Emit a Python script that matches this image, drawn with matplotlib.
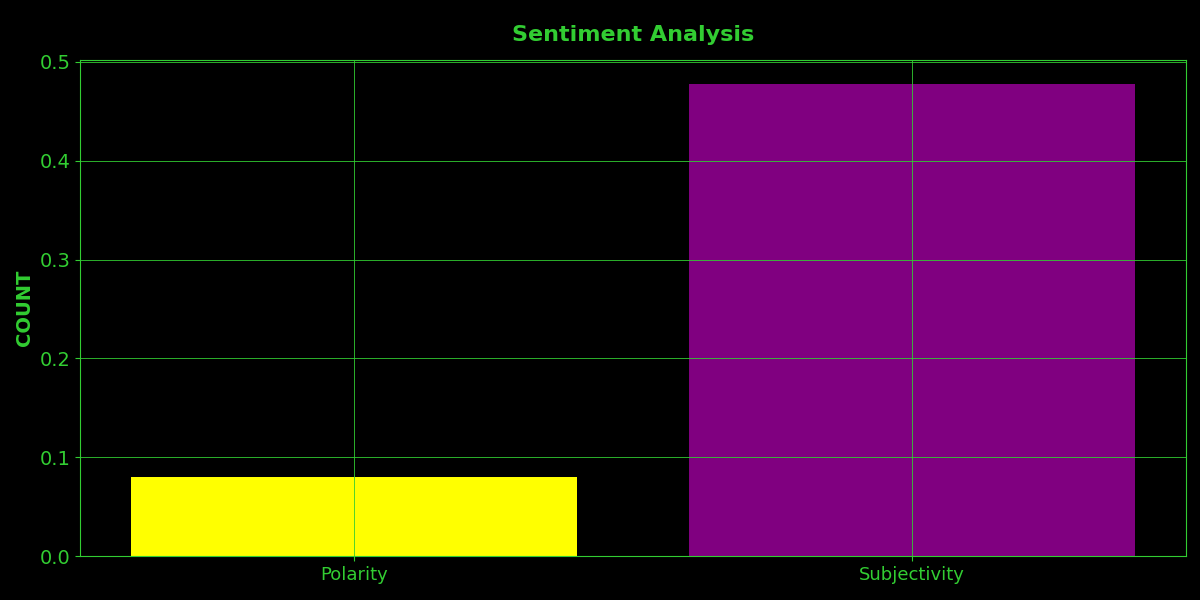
import matplotlib
matplotlib.use('Agg')
import matplotlib.pyplot as plt

labels = ['Polarity', 'Subjectivity']
values = [0.08, 0.478]
colors = ['yellow', 'purple']
green = '#32CD32'

fig, ax = plt.subplots(figsize=(12, 6), dpi=100)
fig.patch.set_facecolor('black')
ax.set_facecolor('black')
ax.bar(labels, values, color=colors)
ax.set_axisbelow(False)
ax.grid(True, color=green, linewidth=0.6)
ax.set_title('Sentiment Analysis', color=green, fontsize=16, fontweight='bold', pad=14)
ax.set_ylabel('COUNT', color=green, fontsize=14, fontweight='bold')
ax.tick_params(colors=green, labelsize=14)
ax.tick_params(axis='x', labelsize=13)
for s in ax.spines.values():
    s.set_color(green)
plt.subplots_adjust(left=0.067, right=0.988, top=0.9, bottom=0.073)
plt.savefig('out.png', facecolor='black')
